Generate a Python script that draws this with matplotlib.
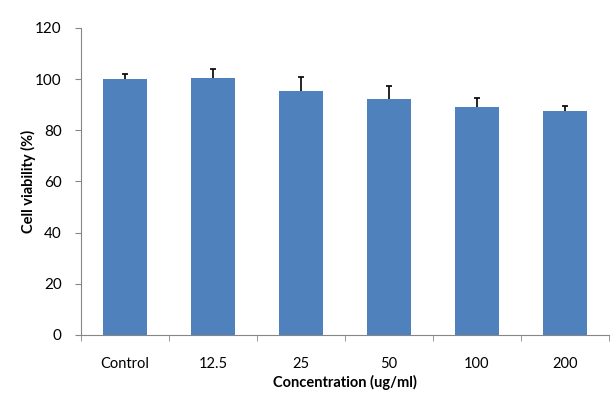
import matplotlib
matplotlib.use("Agg")
import matplotlib.pyplot as plt
import numpy as np

categories = ["Control", "12.5", "25", "50", "100", "200"]
viability = [100.0, 100.5, 95.4, 92.3, 89.1, 87.6]
sd = [2.0, 3.4, 5.3, 4.9, 3.4, 1.8]
yticks = [0, 20, 40, 60, 80, 100, 120]

plt.rcParams["font.family"] = ["Lato", "DejaVu Sans"]
axis_grey = "#868686"

fig = plt.figure(figsize=(6.16, 4.11), dpi=100)
ax = fig.add_axes([0.1315, 0.185, 0.857, 0.747])

x = np.arange(len(categories))
ax.bar(x, viability, width=0.5, color="#4F81BD", zorder=2)
# upper error only: hide the lower cap sitting on the bar top
_, caps, _ = ax.errorbar(x, viability, yerr=[np.zeros(len(sd)), sd], fmt="none",
                         ecolor="black", elinewidth=1.2, capsize=2.5,
                         capthick=1.2, zorder=3)
caps[0].set_visible(False)

ax.set_xlim(-0.5, len(categories) - 0.5)
ax.set_ylim(0, 120)
ax.set_yticks(yticks)
ax.set_xticks(x)
ax.set_xticklabels(categories)
ax.set_xticks(np.arange(-0.5, len(categories), 1.0), minor=True)
ax.tick_params(axis="x", which="major", length=0, pad=16, labelsize=10.5)
ax.tick_params(axis="x", which="minor", length=4, color=axis_grey, direction="out")
ax.tick_params(axis="y", length=4, color=axis_grey, direction="out", labelsize=11, pad=10)

for side in ["top", "right"]:
    ax.spines[side].set_visible(False)
for side in ["left", "bottom"]:
    ax.spines[side].set_color(axis_grey)

ax.set_xlabel("Concentration (ug/ml)", fontweight="bold", fontsize=10.5, labelpad=3)
ax.set_ylabel("Cell viability (%)", fontweight="bold", fontsize=10.5, labelpad=-1)

fig.savefig("out.png", dpi=100)
